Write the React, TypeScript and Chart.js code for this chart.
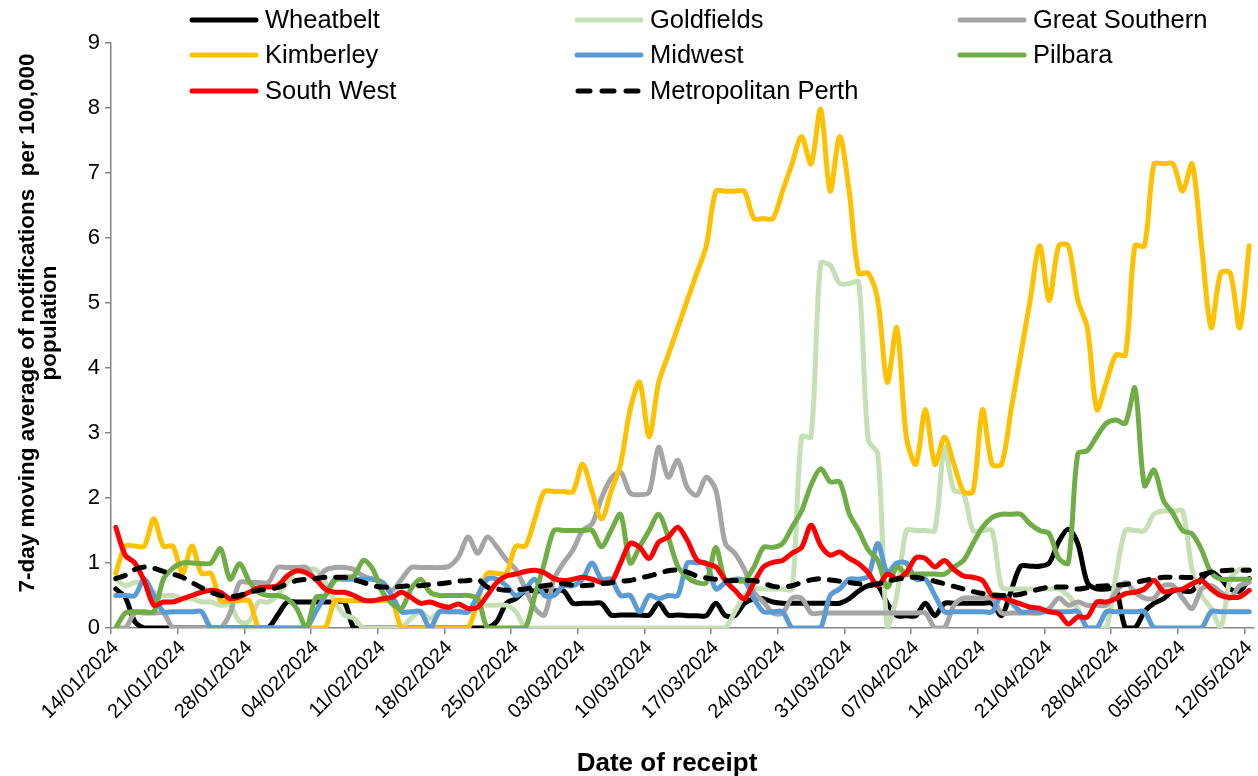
import React, { useEffect, useRef } from 'react';
import { Chart, registerables } from 'chart.js';

Chart.register(...registerables);

// ---------- DATA ----------
const START = Date.UTC(2024, 0, 14);
const categories: string[] = Array.from({ length: 120 }, (_, i) => {
  const d = new Date(START + i * 86400000);
  const dd = String(d.getUTCDate()).padStart(2, '0');
  const mm = String(d.getUTCMonth() + 1).padStart(2, '0');
  return `${dd}/${mm}/${d.getUTCFullYear()}`;
});

const tickLabels = [
  '14/01/2024', '21/01/2024', '28/01/2024', '04/02/2024', '11/02/2024', '18/02/2024',
  '25/02/2024', '03/03/2024', '10/03/2024', '17/03/2024', '24/03/2024', '31/03/2024',
  '07/04/2024', '14/04/2024', '21/04/2024', '28/04/2024', '05/05/2024', '12/05/2024',
];

const yTitle = ['7-day moving average of notifications  per 100,000', 'population'];
const xTitle = 'Date of receipt';

const wheatbelt = [
  0.6, 0.47, 0.1, 0, 0, 0, 0, 0, 0, 0,
  0, 0, 0, 0, 0, 0, 0, 0.2, 0.4, 0.4,
  0.4, 0.4, 0.4, 0.4, 0.4, 0, 0, 0, 0, 0,
  0, 0, 0, 0, 0, 0, 0, 0, 0, 0,
  0.1, 0.38, 0.45, 0.57, 0.57, 0.57, 0.57, 0.57, 0.38, 0.38,
  0.38, 0.38, 0.2, 0.2, 0.2, 0.2, 0.2, 0.38, 0.2, 0.2,
  0.19, 0.19, 0.19, 0.38, 0.19, 0.19, 0.38, 0.45, 0.45, 0.4,
  0.38, 0.38, 0.38, 0.38, 0.38, 0.38, 0.38, 0.45, 0.57, 0.65,
  0.65, 0.38, 0.19, 0.19, 0.19, 0.38, 0.19, 0.38, 0.38, 0.38,
  0.38, 0.38, 0.38, 0.19, 0.57, 0.95, 0.95, 0.95, 1.0, 1.33,
  1.52, 1.3, 0.7, 0.6, 0.6, 0.6, 0, 0, 0.25, 0.38,
  0.45, 0.57, 0.57, 0.57, 0.76, 0.86, 0.76, 0.6, 0.57, 0.76,
];

const goldfields = [
  0.75, 0.65, 0.7, 0.7, 0.55, 0.5, 0.5, 0.45, 0.45, 0.4,
  0.4, 0.35, 0.35, 0.1, 0.1, 0.4, 0.4, 0.5, 0.7, 0.9,
  0.9, 0.9, 0.7, 0.4, 0.2, 0.15, 0, 0, 0, 0,
  0, 0.15, 0.25, 0.15, 0.25, 0.25, 0.25, 0.25, 0.35, 0.35,
  0.35, 0.35, 0.25, 0, 0, 0, 0, 0, 0, 0,
  0, 0, 0, 0, 0, 0, 0, 0, 0, 0,
  0, 0, 0, 0, 0, 0.25, 0.5, 0.6, 0.6, 0.6,
  0.6, 0.6, 2.94, 2.94, 5.61, 5.58, 5.3, 5.3, 5.32, 2.89,
  2.68, 0, 0.5, 1.5, 1.5, 1.5, 1.5, 2.78, 2.12, 2.07,
  1.5, 1.5, 1.5, 0.63, 0.6, 0.6, 0.6, 0.6, 0.6, 0.6,
  0.5, 0.3, 0, 0, 0, 0.8, 1.5, 1.5, 1.5, 1.75,
  1.8, 1.8, 1.8, 0.9, 0.5, 0.3, 0, 0.75, 0.9, 0.9,
];

const greatSouthern = [
  0, 0, 0.23, 0.23, 0.23, 0.23, 0, 0, 0, 0,
  0, 0, 0.23, 0.7, 0.7, 0.7, 0.7, 0.93, 0.93, 0.93,
  0.93, 0.75, 0.89, 0.93, 0.93, 0.9, 0.8, 0.75, 0.7, 0.58,
  0.75, 0.93, 0.93, 0.93, 0.93, 0.95, 1.1, 1.4, 1.15, 1.4,
  1.25, 1.05, 0.9, 0.6, 0.3, 0.2, 0.75, 1.0, 1.2, 1.5,
  1.6, 2.0, 2.3, 2.4, 2.08, 2.05, 2.09, 2.78, 2.32, 2.58,
  2.16, 2.04, 2.32, 2.12, 1.3, 1.15, 0.9, 0.55, 0.4, 0.23,
  0.23, 0.46, 0.46, 0.23, 0.23, 0.23, 0.23, 0.23, 0.23, 0.23,
  0.23, 0.23, 0.23, 0.23, 0.23, 0.23, 0, 0, 0.35, 0.46,
  0.46, 0.46, 0.46, 0.23, 0.23, 0.23, 0.23, 0.23, 0.3, 0.46,
  0.35, 0.4, 0.35, 0.35, 0.35, 0.55, 0.7, 0.55, 0.46, 0.46,
  0.65, 0.65, 0.46, 0.3, 0.6, 0.65, 0.55, 0.46, 0.65, 0.7,
];

const kimberley = [
  0.84, 1.26, 1.26, 1.26, 1.68, 1.26, 1.26, 0.84, 1.26, 0.84,
  0.84, 0.42, 0.42, 0.42, 0.42, 0, 0, 0, 0, 0,
  0, 0, 0, 0.42, 0.42, 0.42, 0.42, 0.42, 0.42, 0.42,
  0, 0, 0, 0, 0, 0, 0, 0, 0.42, 0.84,
  0.84, 0.84, 1.26, 1.26, 1.68, 2.1, 2.1, 2.1, 2.1, 2.52,
  2.1, 1.68, 2.1, 2.52, 3.36, 3.78, 2.94, 3.78, 4.2, 4.62,
  5.04, 5.46, 5.88, 6.72, 6.72, 6.72, 6.72, 6.3, 6.3, 6.3,
  6.72, 7.14, 7.56, 7.14, 7.98, 6.72, 7.56, 6.72, 5.46, 5.46,
  5.04, 3.78, 4.62, 2.94, 2.52, 3.36, 2.52, 2.94, 2.52, 2.1,
  2.1, 3.36, 2.52, 2.52, 3.36, 4.2, 5.04, 5.88, 5.04, 5.88,
  5.88, 5.04, 4.62, 3.36, 3.78, 4.2, 4.2, 5.88, 5.88, 7.14,
  7.14, 7.14, 6.72, 7.14, 5.88, 4.62, 5.46, 5.46, 4.62, 5.88,
];

const midwest = [
  0.5, 0.5, 0.5, 0.75, 0.5, 0.25, 0.25, 0.25, 0.25, 0.25,
  0, 0, 0, 0, 0, 0, 0, 0, 0, 0,
  0, 0.25, 0.5, 0.75, 0.75, 0.75, 0.75, 0.75, 0.7, 0.5,
  0.25, 0.25, 0.25, 0, 0.25, 0.25, 0.25, 0.25, 0.5, 0.75,
  0.75, 0.65, 0.5, 0.6, 0.75, 0.5, 0.5, 0.65, 0.65, 0.75,
  1.0, 0.75, 0.75, 0.5, 0.5, 0.25, 0.5, 0.45, 0.5, 0.5,
  1.0, 1.0, 1.0, 0.6, 0.7, 0.75, 0.73, 0.45, 0.25, 0.25,
  0.25, 0, 0, 0, 0, 0.5, 0.6, 0.75, 0.75, 0.8,
  1.3, 0.85, 1.0, 1.0, 0.75, 0.75, 0.5, 0.25, 0.25, 0.25,
  0.25, 0.25, 0.25, 0.5, 0.4, 0.25, 0.25, 0.25, 0.25, 0.25,
  0.25, 0.25, 0, 0, 0.25, 0.25, 0.25, 0.25, 0.25, 0,
  0, 0, 0, 0, 0, 0.25, 0.25, 0.25, 0.25, 0.25,
];

const pilbara = [
  0, 0.23, 0.25, 0.25, 0.25, 0.75, 0.92, 1.0, 1.0, 0.99,
  1.0, 1.22, 0.75, 0.99, 0.72, 0.55, 0.5, 0.5, 0.45, 0.3,
  0, 0.47, 0.5, 0.73, 0.78, 0.8, 1.04, 0.9, 0.55, 0.37,
  0.3, 0.6, 0.75, 0.55, 0.5, 0.5, 0.5, 0.5, 0.45, 0,
  0, 0, 0, 0, 0.5, 1.0, 1.5, 1.5, 1.5, 1.5,
  1.5, 1.25, 1.5, 1.75, 1.0, 1.25, 1.5, 1.75, 1.4, 0.95,
  0.78, 0.7, 0.7, 1.24, 0.73, 0.73, 0.73, 0.94, 1.24, 1.24,
  1.3, 1.55, 1.8, 2.2, 2.45, 2.25, 2.25, 1.76, 1.5, 1.2,
  1.04, 0.63, 0.94, 0.83, 0.83, 0.83, 0.83, 0.83, 0.94, 1.04,
  1.3, 1.55, 1.7, 1.75, 1.75, 1.75, 1.6, 1.5, 1.45, 1.07,
  1.0, 2.68, 2.73, 2.95, 3.15, 3.2, 3.15, 3.69, 2.19, 2.43,
  1.96, 1.76, 1.5, 1.45, 1.2, 0.85, 0.75, 0.75, 0.75, 0.75,
];

const southWest = [
  1.55, 1.12, 1.0, 0.72, 0.35, 0.4, 0.4, 0.45, 0.5, 0.55,
  0.58, 0.55, 0.45, 0.48, 0.55, 0.62, 0.63, 0.65, 0.8, 0.88,
  0.85, 0.75, 0.6, 0.55, 0.55, 0.5, 0.43, 0.42, 0.45, 0.47,
  0.55, 0.47, 0.38, 0.4, 0.35, 0.32, 0.37, 0.3, 0.32, 0.5,
  0.7, 0.8, 0.83, 0.87, 0.89, 0.85, 0.76, 0.73, 0.75, 0.78,
  0.75, 0.7, 0.7, 1.0, 1.3, 1.24, 1.07, 1.32, 1.4, 1.55,
  1.35, 1.05, 0.99, 0.94, 0.73, 0.58, 0.45, 0.7, 0.94, 1.01,
  1.04, 1.15, 1.24, 1.58, 1.27, 1.12, 1.17, 1.07, 0.99, 0.85,
  0.65, 0.83, 0.76, 0.85, 1.08, 1.07, 0.94, 1.04, 0.9, 0.8,
  0.78, 0.73, 0.5, 0.47, 0.42, 0.37, 0.32, 0.3, 0.25, 0.22,
  0.06, 0.17, 0.17, 0.4, 0.4, 0.45, 0.53, 0.55, 0.6, 0.73,
  0.56, 0.58, 0.6, 0.68, 0.73, 0.6, 0.5, 0.47, 0.48, 0.58,
];

const metroPerth = [
  0.76, 0.81, 0.9, 0.94, 0.92, 0.87, 0.83, 0.78, 0.7, 0.62,
  0.55, 0.5, 0.48, 0.5, 0.55, 0.58, 0.6, 0.62, 0.68, 0.73,
  0.75, 0.76, 0.78, 0.78, 0.78, 0.74, 0.7, 0.65, 0.63, 0.63,
  0.64, 0.65, 0.65, 0.67, 0.68, 0.7, 0.72, 0.73, 0.75, 0.63,
  0.6, 0.58, 0.59, 0.6, 0.63, 0.65, 0.67, 0.68, 0.66, 0.65,
  0.66, 0.68, 0.7, 0.72, 0.73, 0.77, 0.8, 0.84, 0.88, 0.89,
  0.86, 0.8, 0.77, 0.75, 0.73, 0.73, 0.73, 0.73, 0.69, 0.64,
  0.63, 0.65, 0.7, 0.74, 0.76, 0.74, 0.72, 0.7, 0.68, 0.66,
  0.68, 0.72, 0.75, 0.77, 0.78, 0.75, 0.72, 0.68, 0.64, 0.6,
  0.56, 0.53, 0.51, 0.5, 0.5, 0.52, 0.56, 0.6, 0.63, 0.63,
  0.63, 0.6, 0.62, 0.64, 0.65, 0.66, 0.67, 0.7, 0.73, 0.76,
  0.78, 0.78, 0.78, 0.78, 0.82, 0.86, 0.88, 0.89, 0.89, 0.89,
];

const seriesNames = [
  'Wheatbelt', 'Goldfields', 'Great Southern', 'Kimberley',
  'Midwest', 'Pilbara', 'South West', 'Metropolitan Perth',
];
const seriesData = [
  wheatbelt, goldfields, greatSouthern, kimberley,
  midwest, pilbara, southWest, metroPerth,
];
const seriesColors = [
  '#000000', '#c5e0b4', '#a5a5a5', '#ffc000',
  '#5b9bd5', '#70ad47', '#ff0000', '#000000',
];

// ---------- LEGEND + TITLES (drawn on canvas) ----------
const FONT = '"Liberation Sans", Arial, Helvetica, sans-serif';

const decorations = {
  id: 'decorations',
  afterDraw(chart: any) {
    const ctx = chart.ctx as CanvasRenderingContext2D;
    const colX = [190, 575, 958];
    const rowY = [20, 55, 91];
    ctx.save();
    seriesNames.forEach((name, i) => {
      const x0 = colX[i % 3];
      const y = rowY[Math.floor(i / 3)];
      ctx.strokeStyle = seriesColors[i];
      ctx.lineWidth = 5;
      ctx.lineCap = 'round';
      ctx.beginPath();
      if (i === 7) {
        for (let k = 0; k < 3; k++) {
          const s = x0 + 3 + k * 24;
          ctx.moveTo(s, y);
          ctx.lineTo(s + 12, y);
        }
      } else {
        ctx.moveTo(x0 + 2, y);
        ctx.lineTo(x0 + 66, y);
      }
      ctx.stroke();
      ctx.fillStyle = '#000';
      ctx.font = `25.5px ${FONT}`;
      ctx.textBaseline = 'middle';
      ctx.textAlign = 'left';
      ctx.fillText(name, x0 + 75, y + 1);
    });

    // y axis title (two lines, rotated)
    ctx.fillStyle = '#000';
    ctx.font = `bold 22.5px ${FONT}`;
    ctx.textAlign = 'center';
    ctx.textBaseline = 'middle';
    ctx.save();
    ctx.translate(28, 323);
    ctx.rotate(-Math.PI / 2);
    ctx.fillText(yTitle[0], 0, 0);
    ctx.fillText(yTitle[1], 0, 22);
    ctx.restore();

    // x axis title
    ctx.font = `bold 26px ${FONT}`;
    ctx.fillText(xTitle, 667, 764);
    ctx.restore();
  },
};

export default function App() {
  const ref = useRef<HTMLCanvasElement | null>(null);

  useEffect(() => {
    if (!ref.current) return;
    const chart = new Chart(ref.current, {
      type: 'line',
      data: {
        labels: categories,
        datasets: seriesNames.map((name, i) => ({
          label: name,
          data: seriesData[i],
          borderColor: seriesColors[i],
          backgroundColor: seriesColors[i],
          borderWidth: 5,
          pointRadius: 0,
          pointHoverRadius: 0,
          tension: 0.3,
          fill: false,
          borderJoinStyle: 'round' as const,
          borderCapStyle: 'round' as const,
          borderDash: i === 7 ? [10, 11] : [],
          order: 7 - i,
        })),
      },
      options: {
        animation: false,
        responsive: false,
        devicePixelRatio: 1,
        layout: { padding: { left: 0, right: 4, top: 43, bottom: 0 } },
        plugins: {
          legend: { display: false },
          tooltip: { enabled: false },
        },
        scales: {
          x: {
            type: 'category',
            offset: true,
            afterFit: (scale: any) => {
              scale.height = 148;
              scale.paddingRight = 0;
              scale.paddingLeft = 0;
            },
            grid: {
              offset: true,
              drawOnChartArea: false,
              drawTicks: true,
              tickLength: 6,
              lineWidth: 1.5,
              color: (c: any) => (c.index % 7 === 0 ? '#868686' : 'rgba(0,0,0,0)'),
            },
            border: { display: true, color: '#868686', width: 1.5 },
            ticks: {
              autoSkip: false,
              maxRotation: 45,
              minRotation: 45,
              padding: 2,
              color: '#000',
              font: { family: FONT, size: 20 },
              callback: (_v: any, index: number) => (index % 7 === 0 ? tickLabels[index / 7] : ''),
            },
            title: { display: false },
          },
          y: {
            min: 0,
            max: 9,
            afterFit: (scale: any) => { scale.width = 111; },
            grid: {
              drawOnChartArea: false,
              drawTicks: true,
              tickLength: 6,
              lineWidth: 1.5,
              color: '#868686',
            },
            border: { display: true, color: '#868686', width: 1.5 },
            ticks: {
              stepSize: 1,
              padding: 5,
              color: '#000',
              font: { family: FONT, size: 22 },
            },
            title: { display: false },
          },
        },
      },
      plugins: [decorations],
    });
    return () => chart.destroy();
  }, []);

  return (
    <div style={{ position: 'fixed', left: 0, top: 0, width: 1258, height: 776, background: '#fff' }}>
      <canvas ref={ref} width={1258} height={776} style={{ display: 'block' }} />
    </div>
  );
}
